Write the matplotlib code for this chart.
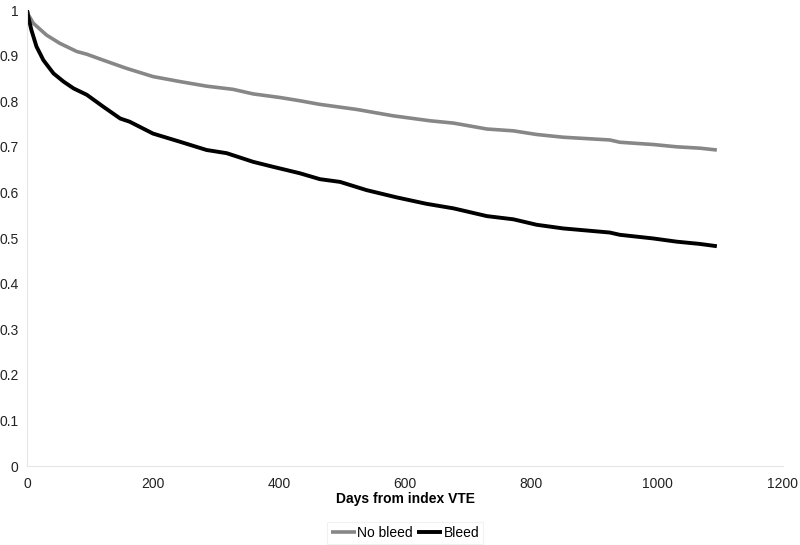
import matplotlib
matplotlib.use("Agg")
import matplotlib.pyplot as plt

plt.rcParams['font.family'] = ['Liberation Sans', 'DejaVu Sans']

# Data
days_no_bleed = [0, 2, 10, 31, 52, 79, 95, 121, 158, 200, 243, 285, 327, 359, 402,
                 433, 465, 523, 581, 640, 677, 730, 772, 809, 851, 925, 941, 994,
                 1031, 1068, 1095]
surv_no_bleed = [1.0, 0.99, 0.971, 0.945, 0.927, 0.909, 0.903, 0.890, 0.872, 0.854,
                 0.843, 0.833, 0.826, 0.816, 0.808, 0.801, 0.793, 0.782, 0.768,
                 0.757, 0.752, 0.739, 0.735, 0.727, 0.721, 0.715, 0.710, 0.705,
                 0.700, 0.697, 0.693]

days_bleed = [0, 2, 7, 15, 26, 42, 58, 74, 95, 121, 148, 163, 200, 243, 285, 317,
              359, 391, 433, 465, 497, 539, 587, 634, 677, 730, 772, 809, 851, 925,
              941, 994, 1031, 1068, 1095]
surv_bleed = [1.0, 0.985, 0.956, 0.920, 0.890, 0.861, 0.843, 0.828, 0.814, 0.788,
              0.762, 0.755, 0.729, 0.711, 0.693, 0.686, 0.667, 0.656, 0.642, 0.629,
              0.623, 0.605, 0.589, 0.575, 0.565, 0.548, 0.541, 0.529, 0.521, 0.512,
              0.507, 0.499, 0.492, 0.487, 0.482]

x_ticks = [0, 200, 400, 600, 800, 1000, 1200]
y_ticks = [0, 0.1, 0.2, 0.3, 0.4, 0.5, 0.6, 0.7, 0.8, 0.9, 1]
y_tick_labels = ["0", "0.1", "0.2", "0.3", "0.4", "0.5", "0.6", "0.7", "0.8", "0.9", "1"]

fig = plt.figure(figsize=(8, 5.45), dpi=100)
ax = fig.add_axes([27/800, 1 - 466/545, (783 - 27)/800, (466 - 10)/545])

ax.plot(days_no_bleed, surv_no_bleed, color='#878787', lw=2.6, label='No bleed',
        solid_joinstyle='round', solid_capstyle='butt')
ax.plot(days_bleed, surv_bleed, color='#000000', lw=2.8, label='Bleed',
        solid_joinstyle='round', solid_capstyle='butt')

ax.set_xlim(0, 1200)
ax.set_ylim(0, 1)
ax.set_xticks(x_ticks)
ax.set_yticks(y_ticks)
ax.set_yticklabels(y_tick_labels)
ax.tick_params(axis='both', length=0, labelsize=10, colors='#222222')
ax.tick_params(axis='x', pad=8)
ax.tick_params(axis='y', pad=6)

for side in ['top', 'right']:
    ax.spines[side].set_visible(False)
for side in ['left', 'bottom']:
    ax.spines[side].set_color('#e6e6e6')
    ax.spines[side].set_linewidth(0.8)

ax.set_xlabel('Days from index VTE', fontsize=10, fontweight='bold', labelpad=1)

leg = fig.legend(loc='center', bbox_to_anchor=(405/800, 1 - 533/545), ncol=2,
                 frameon=True, fontsize=10, handlelength=1.8, handletextpad=0.1,
                 columnspacing=0.3, borderpad=0.3, fancybox=False)
leg.get_frame().set_edgecolor('#eeeeee')
leg.get_frame().set_linewidth(0.8)

fig.savefig('out.png', dpi=100)
